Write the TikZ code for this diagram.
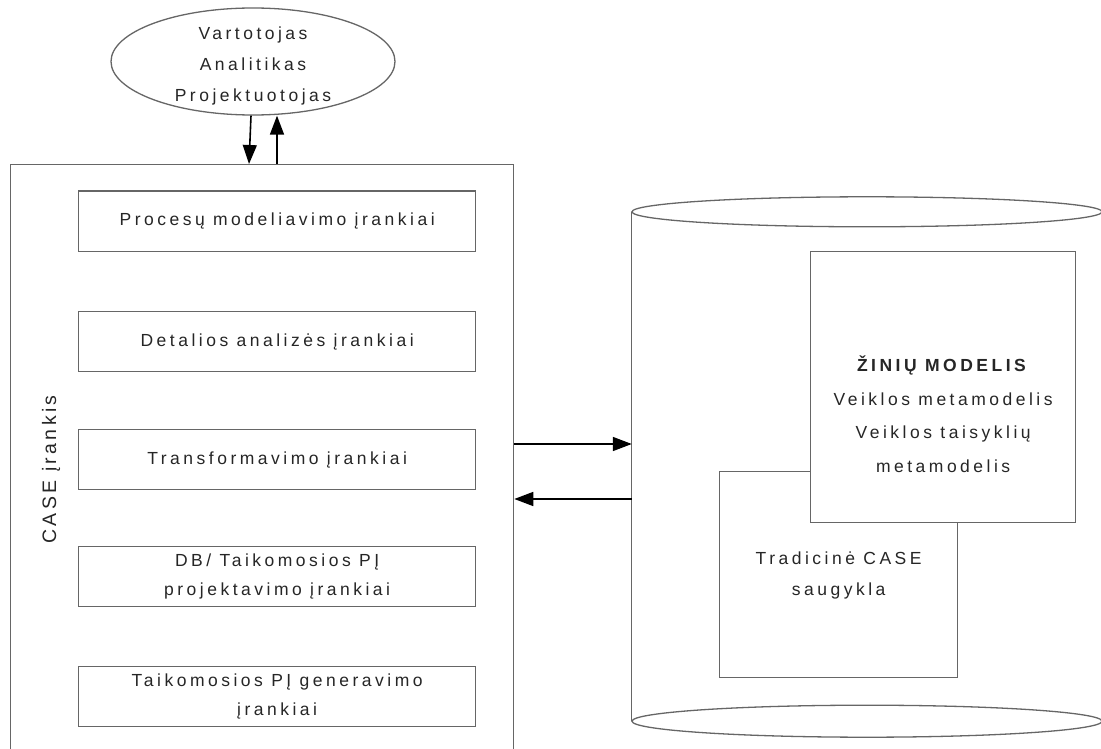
\documentclass[tikz,border=0pt]{standalone}
\usepackage{fontspec}
\setmainfont{Liberation Sans}
\newfontfamily\spaced[LetterSpace=20]{Liberation Sans}
\newfontfamily\casefont[LetterSpace=17]{Liberation Sans}
\usetikzlibrary{arrows.meta,shapes.geometric,calc}
\begin{document}
\begin{tikzpicture}[x=1pt,y=-1pt,
  outline/.style={draw=black!60, line width=1.3pt},
  frame/.style={outline, fill=white, inner sep=0pt, anchor=north west},
  tool/.style={frame, minimum width=397pt, minimum height=60pt, align=center,
    font=\spaced\fontsize{17.5}{29}\selectfont, text=black!85},
  txt/.style={align=center, font=\spaced\fontsize{17.5}{31}\selectfont,
    text=black!85, inner sep=0pt},
  arr/.style={line width=1.6pt, -{Triangle[length=19pt,width=14pt]}},
]
\useasboundingbox (0,0) rectangle (1101,749);
\fill[white] (0,0) rectangle (1101,749);
\clip (0,0) rectangle (1101,749);

% users
\node[outline, ellipse, minimum width=284pt, minimum height=107pt, inner sep=0pt]
  (user) at (253,61.5) {};
\node[txt] (usertxt) at (253,65.5) {Vartotojas\\Analitikas\\Projektuotojas};

% CASE tool frame
\node[frame, minimum width=503.5pt, minimum height=600pt] (case) at (9.5,164) {};
\node[rotate=90, inner sep=0pt, text=black!85,
  font=\casefont\fontsize{19.5}{21}\selectfont] (caselbl) at (51,469.5) {CASE įrankis};

\node[tool] (t1) at (78,190.5) {Procesų modeliavimo įrankiai};
\node[tool] (t2) at (78,311)   {Detalios analizės įrankiai};
\node[tool] (t3) at (78,429)   {Transformavimo įrankiai};
\node[tool] (t4) at (78,546)   {DB/ Taikomosios PĮ\\projektavimo įrankiai};
\node[tool] (t5) at (78,666)   {Taikomosios PĮ generavimo\\įrankiai};

% repository cylinder
\node[inner sep=0pt, minimum width=470pt, minimum height=509pt] (cyl) at (867,466.5) {};
\draw[outline] (cyl.north west) -- (cyl.south west);
\draw[outline] (cyl.north) ellipse [x radius=235, y radius=15];
\draw[outline] (cyl.south) ellipse [x radius=235, y radius=16];

\node[frame, minimum width=238pt, minimum height=206pt] (trad) at (719,471) {};
\node[txt] (tradtxt) at ($(trad.center)+(0,1)$) {Tradicinė CASE\\saugykla};
\node[frame, minimum width=265pt, minimum height=271pt] (zinu) at (810,251) {};
\node[txt, font=\spaced\fontsize{17.5}{33.5}\selectfont] (zinutxt) at ($(zinu.center)+(0,27)$)
  {\textbf{ŽINIŲ MODELIS}\\Veiklos metamodelis\\Veiklos taisyklių\\metamodelis};

% connectors
\coordinate (torepo) at (0,444);
\coordinate (fromrepo) at (0,499);
\draw[arr] (case.east |- torepo) -- (cyl.west |- torepo);
\draw[arr] (cyl.west |- fromrepo) -- (case.east |- fromrepo);
\draw[arr] ($(user.south)+(-2,0)$) -- ($(user.south |- case.north)+(-4,0)$);
\draw[arr] ($(user.south |- case.north)+(24,0)$) -- ($(user.south)+(24,0)$);
\end{tikzpicture}
\end{document}
